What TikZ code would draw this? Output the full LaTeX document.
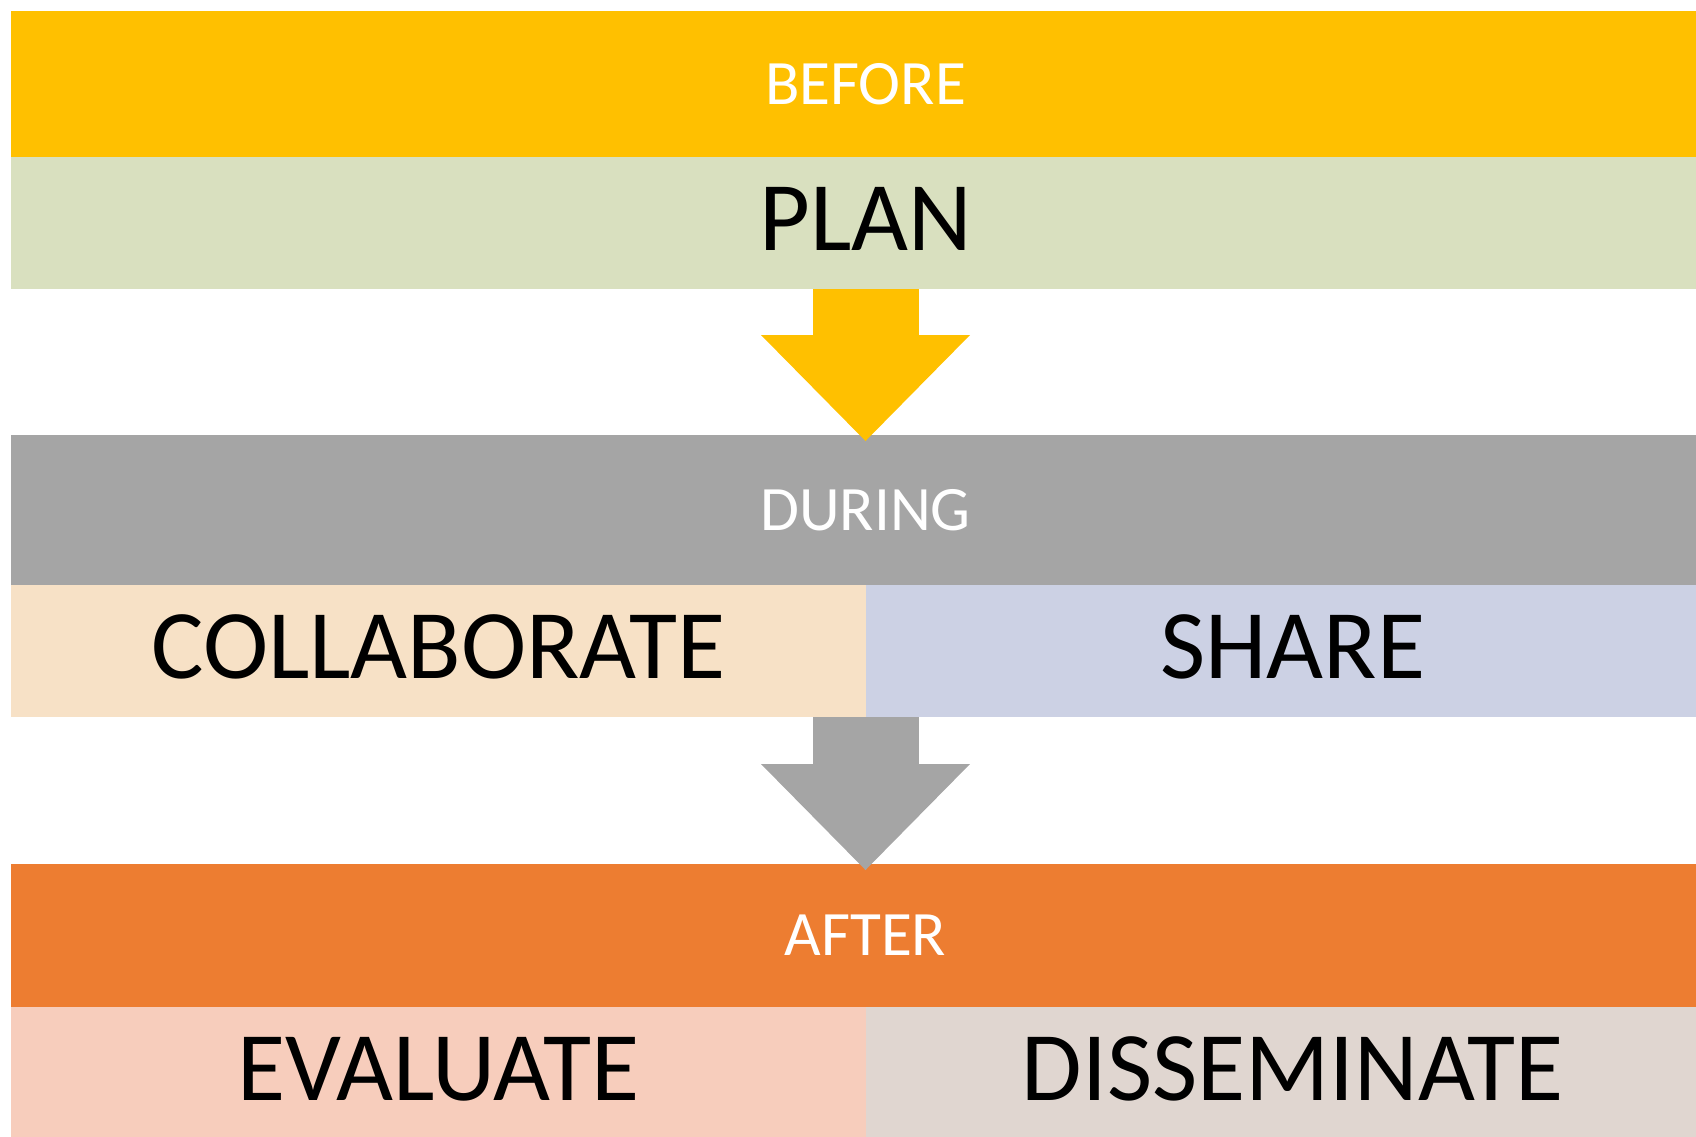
\documentclass[tikz,border=0pt]{standalone}
\usepackage{fontspec}
\setmainfont{Carlito}
\usetikzlibrary{positioning,arrows.meta}

\definecolor{gold}{HTML}{FFC000}
\definecolor{sage}{HTML}{D9E0BF}
\definecolor{slate}{HTML}{A5A5A5}
\definecolor{peach}{HTML}{F7E1C6}
\definecolor{lavender}{HTML}{CCD1E4}
\definecolor{tangerine}{HTML}{ED7D31}
\definecolor{salmon}{HTML}{F7CDBC}
\definecolor{stone}{HTML}{E0D6D0}

\tikzstyle{phase} = [rectangle, minimum width=17.09cm, minimum height=1.46cm, inner sep=0pt, outer sep=0pt, text=white, font=\fontsize{18}{22}\selectfont]
\tikzstyle{fullstep} = [rectangle, minimum width=17.09cm, minimum height=1.32cm, inner sep=0pt, outer sep=0pt, text height=0.62cm, text depth=0.08cm, text=black, font=\fontsize{28}{34}\selectfont]
\tikzstyle{halfstep} = [rectangle, minimum width=8.545cm, minimum height=1.32cm, inner sep=0pt, outer sep=0pt, text height=0.62cm, text depth=0.08cm, text=black, font=\fontsize{28}{34}\selectfont]
\tikzstyle{flow} = [line width=1.06cm, -{Triangle[width=2.09cm, length=1.06cm, line width=0pt]}, shorten >=-0.06cm]

\begin{document}
\begin{tikzpicture}

	\useasboundingbox (0,0) rectangle (16.96,-11.36);
	\clip (0,0) rectangle (16.96,-11.36);

	\node (before) [phase, fill=gold, anchor=north west] at (0.11,-0.11) {BEFORE};
	\node (plan) [fullstep, fill=sage, below=0cm of before] {PLAN};

	\node (during) [phase, fill=slate, minimum height=1.50cm, below=1.46cm of plan] {DURING};
	\node (collab) [halfstep, fill=peach, below right=0cm and 0cm of during.south west] {COLLABORATE};
	\node (share) [halfstep, fill=lavender, right=0cm of collab] {SHARE};

	\node (after) [phase, fill=tangerine, minimum height=1.43cm, below=1.47cm of collab.south east] {AFTER};
	\node (evaluate) [halfstep, fill=salmon, below right=0cm and 0cm of after.south west] {EVALUATE};
	\node (disseminate) [halfstep, fill=stone, right=0cm of evaluate] {DISSEMINATE};

	\draw [flow, gold] (plan) -- (during);
	\draw [flow, slate] (collab.south east) -- (collab.south east |- after.north);

\end{tikzpicture}
\end{document}
